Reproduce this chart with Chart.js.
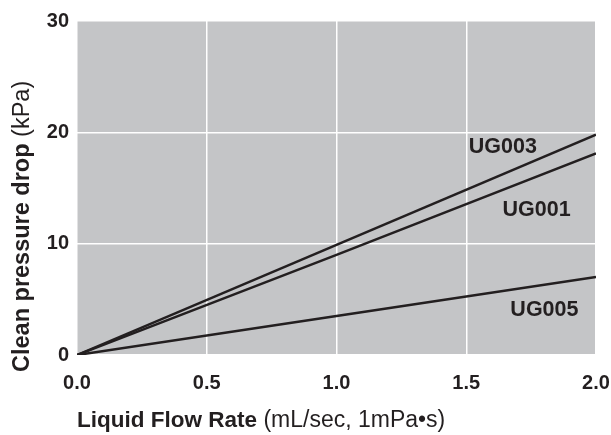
<!DOCTYPE html>
<html>
<head>
<meta charset="utf-8">
<script src="https://cdn.jsdelivr.net/npm/chart.js@4.4.1/dist/chart.umd.min.js"></script>
<style>
  html, body { margin:0; padding:0; background:#fff; }
  #wrap { width:611px; height:435px; }
</style>
</head>
<body>
<div id="wrap"><canvas id="c" width="611" height="435"></canvas></div>
<script>
// data
const flowRate = [0.0, 1.0, 2.0];          // mL/sec
const ug003 = [0, 9.9, 19.8];              // kPa
const ug001 = [0, 9.0, 18.1];
const ug005 = [0, 3.5, 7.0];
const xTicks = [0.0, 0.5, 1.0, 1.5, 2.0];
const yTicks = [0, 10, 20, 30];
const seriesNames = ['UG003', 'UG001', 'UG005'];

const INK = '#231f20';
const FONT = '"Liberation Sans", Arial, Helvetica, sans-serif';

function pts(ys){ return flowRate.map((x,i)=> ({x:x, y:ys[i]})); }

// gray plot background
const plotBg = {
  id:'plotBg',
  beforeDraw(chart){
    const {ctx, chartArea:a} = chart;
    ctx.save(); ctx.fillStyle = '#c4c5c7';
    ctx.fillRect(a.left, a.top, a.right-a.left, a.bottom-a.top);
    ctx.restore();
  }
};

// series labels + mixed bold/regular axis titles
const labelsPlugin = {
  id:'labelsPlugin',
  afterDraw(chart){
    const {ctx, scales:{x, y}} = chart;
    ctx.save();
    ctx.fillStyle = INK;
    ctx.textBaseline = 'middle';
    ctx.font = 'bold 21.5px ' + FONT;
    ctx.textAlign = 'left';
    // anchors in data units
    const anchors = [[1.51, 18.65], [1.64, 13.0], [1.67, 4.05]];
    seriesNames.forEach((n,i)=>{
      ctx.fillText(n, x.getPixelForValue(anchors[i][0]), y.getPixelForValue(anchors[i][1]));
    });

    // x title
    const xt1 = 'Liquid Flow Rate', xt2 = ' (mL/sec, 1mPa\u2022s)';
    let px = x.left, py = 421;
    ctx.font = 'bold 22.5px ' + FONT;
    ctx.fillText(xt1, px, py);
    px += ctx.measureText(xt1).width;
    ctx.font = '23px ' + FONT;
    ctx.fillText(xt2, px, py);

    // y title (rotated)
    const yt1 = 'Clean pressure drop', yt2 = ' (kPa)';
    ctx.translate(23, 372);
    ctx.rotate(-Math.PI/2);
    ctx.font = 'bold 23.5px ' + FONT;
    ctx.fillText(yt1, 0, 0);
    const w = ctx.measureText(yt1).width;
    ctx.font = '23.5px ' + FONT;
    ctx.fillText(yt2, w, 0);
    ctx.restore();
  }
};

function lineDs(label, ys){
  return { label:label, data:pts(ys), borderColor:INK, borderWidth:2.5, pointRadius:0, fill:false, tension:0 };
}

new Chart(document.getElementById('c'), {
  type:'line',
  data:{ datasets:[ lineDs(seriesNames[0], ug003), lineDs(seriesNames[1], ug001), lineDs(seriesNames[2], ug005) ] },
  options:{
    responsive:false, animation:false, devicePixelRatio:1,
    layout:{ padding:{ left:0, right:15, top:21, bottom:0 } },
    plugins:{ legend:{ display:false }, tooltip:{ enabled:false } },
    scales:{
      x:{
        type:'linear', min:0, max:2,
        afterBuildTicks: s => { s.ticks = xTicks.map(v=>({value:v})); },
        afterFit: s => { s.height = 80; s.paddingLeft = 0; s.paddingRight = 0; },
        grid:{ color:'#ffffff', lineWidth:1.5, drawTicks:false },
        border:{ display:false },
        ticks:{ color:INK, padding:16, font:{ family:FONT, size:20, weight:'bold' }, callback: v => v.toFixed(1) }
      },
      y:{
        type:'linear', min:0, max:30,
        afterBuildTicks: s => { s.ticks = yTicks.map(v=>({value:v})); },
        afterFit: s => { s.width = 77; s.paddingTop = 0; s.paddingBottom = 0; },
        grid:{ color:'#ffffff', lineWidth:1.5, drawTicks:false },
        border:{ display:false },
        ticks:{ color:INK, padding:8, font:{ family:FONT, size:20, weight:'bold' } }
      }
    }
  },
  plugins:[plotBg, labelsPlugin]
});
</script>
</body>
</html>
